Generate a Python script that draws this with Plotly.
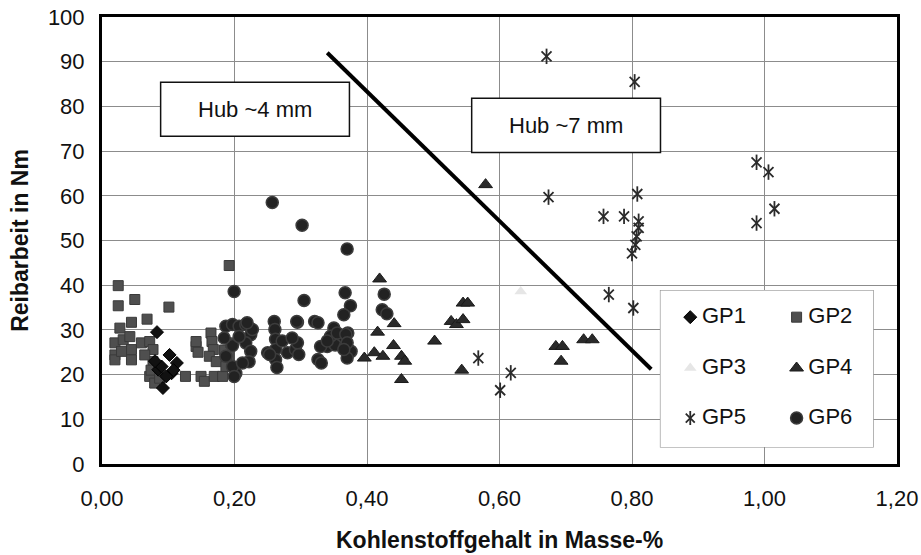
import plotly.graph_objects as go

# ---------------- data ----------------
gp1_x = [0.083, 0.102, 0.113, 0.092, 0.105, 0.085, 0.097, 0.090, 0.080, 0.108]
gp1_y = [29.5, 24.4, 22.6, 17.0, 20.3, 21.1, 19.6, 21.8, 23.0, 21.0]

gp2_x = [0.0245, 0.0245, 0.0495, 0.101, 0.068, 0.0445, 0.027, 0.192,
         0.0195, 0.0195, 0.0195, 0.032, 0.042, 0.0445, 0.0445, 0.0595, 0.072,
         0.077, 0.077, 0.0645, 0.0295, 0.072, 0.0795, 0.074, 0.087, 0.126,
         0.1495, 0.1545, 0.1695, 0.182, 0.142, 0.145, 0.142, 0.1645, 0.166,
         0.168, 0.162, 0.1725, 0.187, 0.192, 0.185, 0.1945]
gp2_y = [39.9, 35.4, 36.8, 35.1, 32.4, 31.7, 30.4, 44.4,
         27.1, 24.4, 23.3, 27.8, 28.5, 25.6, 23.3, 27.1, 27.4,
         25.6, 22.9, 24.4, 25.2, 19.6, 18.1, 21.0, 19.2, 19.6,
         19.6, 18.5, 19.6, 19.6, 26.3, 25.0, 27.4, 29.3, 27.4,
         25.6, 24.1, 22.9, 21.8, 24.1, 25.5, 27.1]

gp3_x = [0.632]
gp3_y = [38.6]

gp4_x = [0.419, 0.441, 0.416, 0.440, 0.396, 0.411, 0.424, 0.452, 0.457, 0.452,
         0.502, 0.527, 0.535, 0.545, 0.552, 0.545, 0.543, 0.579, 0.685, 0.695,
         0.693, 0.727, 0.740]
gp4_y = [41.4, 31.4, 29.5, 26.5, 23.7, 24.9, 24.1, 24.1, 23.0, 18.9,
         27.5, 31.9, 31.2, 36.0, 36.0, 32.3, 21.0, 62.5, 26.3, 26.3,
         23.0, 27.8, 27.8]

gp5_x = [0.671, 0.804, 0.674, 0.808, 0.757, 0.788, 0.810, 0.810, 0.807, 0.805,
         0.800, 0.988, 1.006, 1.015, 0.988, 0.765, 0.802, 0.568, 0.617, 0.601]
gp5_y = [91.2, 85.5, 59.7, 60.4, 55.4, 55.4, 54.3, 52.8, 50.9, 49.0,
         47.1, 67.5, 65.3, 57.1, 53.9, 37.9, 34.9, 23.7, 20.4, 16.5]

gp6_x = [0.257, 0.302, 0.370, 0.1995, 0.367, 0.305, 0.375, 0.365, 0.295, 0.321,
         0.326, 0.350, 0.371, 0.361, 0.340, 0.352, 0.367, 0.376, 0.370, 0.326,
         0.331, 0.260, 0.261, 0.262, 0.262, 0.262, 0.264, 0.250, 0.253, 0.280,
         0.292, 0.297, 0.272, 0.295, 0.287, 0.294, 0.345, 0.355, 0.368, 0.370,
         0.365, 0.330, 0.340, 0.187, 0.197, 0.207, 0.217, 0.2245, 0.217, 0.2245,
         0.222, 0.202, 0.197, 0.187, 0.197, 0.207, 0.1845, 0.212, 0.1995, 0.227,
         0.219, 0.426, 0.423, 0.430]
gp6_y = [58.5, 53.4, 48.1, 38.6, 38.3, 36.6, 35.4, 33.4, 31.7, 31.9,
         31.6, 30.4, 29.3, 28.6, 26.3, 26.6, 26.3, 25.2, 23.7, 23.4,
         22.6, 31.9, 30.1, 27.9, 25.6, 23.4, 21.6, 24.9, 24.5, 24.9,
         25.6, 24.5, 27.5, 27.1, 28.2, 31.9, 28.6, 29.3, 29.0, 27.1,
         25.6, 26.3, 27.5, 30.8, 31.2, 30.8, 31.2, 28.9, 27.1, 25.2,
         22.9, 20.3, 21.8, 24.1, 26.5, 28.5, 28.2, 22.6, 19.6, 30.1,
         31.6, 38.0, 34.5, 33.6]

border_x = [0.34, 0.829]
border_y = [92.0, 21.2]

x_ticks = [0.0, 0.2, 0.4, 0.6, 0.8, 1.0, 1.2]
y_ticks = [0, 10, 20, 30, 40, 50, 60, 70, 80, 90, 100]

series_names = ["GP1", "GP2", "GP3", "GP4", "GP5", "GP6"]

# ---------------- styles ----------------
FONT = "Liberation Sans, Arial, sans-serif"
styles = {
    "GP1": dict(symbol="diamond", size=10, color="#111111", line=dict(color="#000000", width=1)),
    "GP2": dict(symbol="square", size=10, color="#4f4f4f", line=dict(color="#3a3a3a", width=1)),
    "GP3": dict(symbol="triangle-up", size=11, color="#e6e6e6", line=dict(color="#e6e6e6", width=0)),
    "GP4": dict(symbol="triangle-up", size=12, color="#2a2a2a", line=dict(color="#1a1a1a", width=1)),
    "GP6": dict(symbol="circle", size=12, color="#222222", line=dict(color="#3c3c3c", width=1.5)),
}
star_a = dict(symbol="x-thin-open", size=10, color="#2b2b2b", line=dict(color="#2b2b2b", width=1.8))
star_b = dict(symbol="line-ns-open", size=11, color="#2b2b2b", line=dict(color="#2b2b2b", width=1.8))

fig = go.Figure()

data = {
    "GP1": (gp1_x, gp1_y), "GP2": (gp2_x, gp2_y), "GP3": (gp3_x, gp3_y),
    "GP4": (gp4_x, gp4_y), "GP5": (gp5_x, gp5_y), "GP6": (gp6_x, gp6_y),
}
for name in ["GP2", "GP1", "GP3", "GP4", "GP5", "GP6"]:
    xs, ys = data[name]
    if name == "GP5":
        fig.add_trace(go.Scatter(x=xs, y=ys, mode="markers", marker=star_a, showlegend=False, name=name))
        fig.add_trace(go.Scatter(x=xs, y=ys, mode="markers", marker=star_b, showlegend=False, name=name))
    else:
        fig.add_trace(go.Scatter(x=xs, y=ys, mode="markers", marker=styles[name], showlegend=False, name=name))

fig.add_trace(go.Scatter(x=border_x, y=border_y, mode="lines",
                         line=dict(color="#000000", width=4), showlegend=False))

# ---------------- manual two-column legend (overlay axes) ----------------
leg_col_x = [0.14, 0.64]
leg_row_y = [0.83, 0.505, 0.185]
for i, name in enumerate(series_names):
    cx = leg_col_x[i % 2]
    cy = leg_row_y[i // 2]
    if name == "GP5":
        for mk in (star_a, star_b):
            fig.add_trace(go.Scatter(x=[cx], y=[cy], mode="markers", marker=dict(mk, size=mk["size"] - 1),
                                     xaxis="x2", yaxis="y2", showlegend=False))
    else:
        st = dict(styles[name])
        fig.add_trace(go.Scatter(x=[cx], y=[cy], mode="markers", marker=st,
                                 xaxis="x2", yaxis="y2", showlegend=False))
    fig.add_trace(go.Scatter(x=[cx + 0.055], y=[cy], mode="text", text=[name],
                             textposition="middle right",
                             textfont=dict(family=FONT, size=22, color="#111111"),
                             xaxis="x2", yaxis="y2", showlegend=False))

shapes = [
    dict(type="rect", xref="x", yref="y", x0=0.0885, x1=0.3735, y0=73.3, y1=85.4,
         fillcolor="white", line=dict(color="#111111", width=1.5), layer="between"),
    dict(type="rect", xref="x", yref="y", x0=0.558, x1=0.843, y0=69.7, y1=81.8,
         fillcolor="white", line=dict(color="#111111", width=1.5), layer="between"),
    dict(type="rect", xref="x", yref="y", x0=0.843, x1=1.164, y0=3.8, y1=38.8,
         fillcolor="white", line=dict(color="#8a8a8a", width=1.2), layer="between"),
]

annotations = [
    dict(x=0.231, y=79.35, xref="x", yref="y", text="Hub ~4 mm", showarrow=False,
         font=dict(family=FONT, size=22, color="#111111")),
    dict(x=0.7005, y=75.75, xref="x", yref="y", text="Hub ~7 mm", showarrow=False,
         font=dict(family=FONT, size=22, color="#111111")),
    dict(x=-0.104, y=0.5, xref="paper", yref="paper", text="<b>Reibarbeit in Nm</b>",
         xanchor="center", yanchor="middle",
         textangle=-90, showarrow=False, font=dict(family=FONT, size=23, color="#111111")),
    dict(x=0.5, y=-0.17, xref="paper", yref="paper", text="<b>Kohlenstoffgehalt in Masse-%</b>",
         xanchor="center", yanchor="middle",
         showarrow=False, font=dict(family=FONT, size=23, color="#111111")),
]

fig.update_layout(
    width=921, height=555,
    margin=dict(l=102, r=24, t=17, b=91, autoexpand=False),
    paper_bgcolor="white", plot_bgcolor="white",
    separators=",.",
    showlegend=False,
    shapes=shapes,
    annotations=annotations,
    xaxis=dict(range=[0, 1.2], tickvals=x_ticks, tickformat=".2f",
               showgrid=True, gridcolor="#8c8c8c", gridwidth=1.2, zeroline=False,
               showline=True, linecolor="black", linewidth=3, mirror=True,
               ticks="", ticklabelstandoff=13, ticklabeloverflow="allow",
               tickfont=dict(family=FONT, size=22, color="#111111")),
    yaxis=dict(range=[0, 100], tickvals=y_ticks,
               showgrid=True, gridcolor="#8c8c8c", gridwidth=1.2, zeroline=False,
               showline=True, linecolor="black", linewidth=3, mirror=True,
               ticks="", ticklabelstandoff=10, ticklabeloverflow="allow",
               tickfont=dict(family=FONT, size=22, color="#111111")),
    xaxis2=dict(domain=[0.7025, 0.97], range=[0, 1], anchor="y2", visible=False, fixedrange=True),
    yaxis2=dict(domain=[0.038, 0.388], range=[0, 1], anchor="x2", visible=False, fixedrange=True),
)

fig.write_html("out.html")
